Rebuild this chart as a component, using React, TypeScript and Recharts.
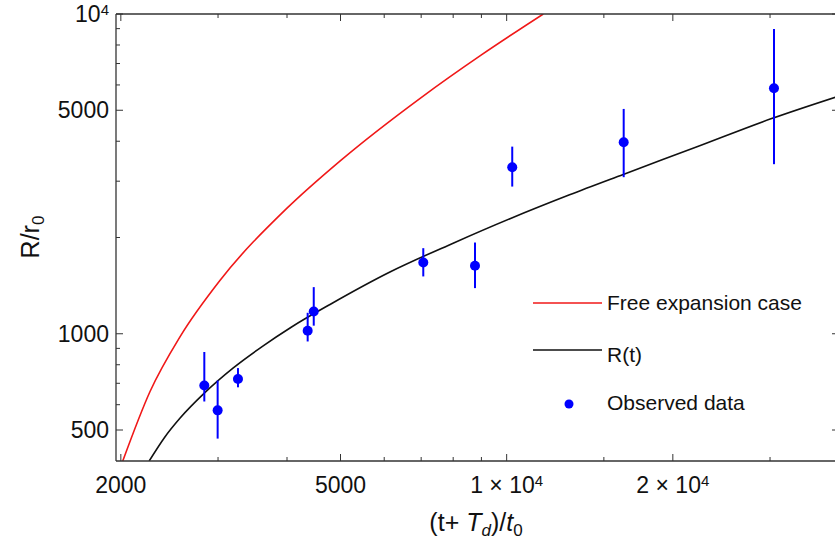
import { ComposedChart, Line, Scatter, ErrorBar, XAxis, YAxis } from 'recharts';

// observed points (x, y) with lower / upper ends of the error bars
const obsX = [2833, 2995, 3260, 4360, 4472, 7062, 8762, 10235, 16293, 30497];
const obsY = [689, 576, 722, 1022, 1174, 1670, 1631, 3318, 3973, 5858];
const obsLow = [614, 470, 680, 946, 1060, 1511, 1389, 2886, 3088, 3391];
const obsHigh = [877, 714, 781, 1163, 1399, 1852, 1929, 3848, 5048, 8978];

// R(t) curve
const rtX = [2251, 2400, 2561, 2833, 3197, 3600, 4077, 4786, 6145, 8000, 10139, 13000, 16264, 22000, 30100, 40000];
const rtY = [400, 474, 545, 652, 782, 910, 1050, 1235, 1560, 1920, 2290, 2720, 3150, 3830, 4700, 5540];

// free expansion curve
const freeX = [2016, 2259, 2561, 3021, 4000, 5000, 7000, 9000, 11650];
const freeY = [400, 660, 980, 1465, 2470, 3480, 5480, 7450, 10000];

const xTicks = [2000, 3000, 4000, 5000, 6000, 7000, 8000, 9000, 10000, 15000, 20000, 30000, 40000];
const xMajor = [2000, 5000, 10000, 20000];
const xMajorText = ['2000', '5000', '1 \u00d7 10', '2 \u00d7 10'];
const xMajorSup = ['', '', '4', '4'];

const yTicks = [500, 600, 700, 800, 900, 1000, 2000, 3000, 4000, 5000, 6000, 7000, 8000, 9000, 10000];
const yMajor = [500, 1000, 5000, 10000];
const yMajorText = ['500', '1000', '5000', '10'];
const yMajorSup = ['', '', '', '4'];

const freeData = freeX.map((x, i) => ({ x, y: freeY[i] }));
const rtData = rtX.map((x, i) => ({ x, y: rtY[i] }));
const obsData = obsX.map((x, i) => ({ x, y: obsY[i], err: [obsY[i] - obsLow[i], obsHigh[i] - obsY[i]] }));

const AXIS = '#333';
const FONT = '"Liberation Sans", Arial, Helvetica, sans-serif';
const BLUE = '#0000ff';
const RED = '#f01818';

function label(text: string, sup: string) {
  return (
    <>
      <tspan>{text}</tspan>
      {sup && (
        <tspan dy={-7} fontSize={15}>
          {sup}
        </tspan>
      )}
    </>
  );
}

function bottomTick(props: any) {
  const { x, y, payload } = props;
  const i = xMajor.indexOf(payload.value);
  return (
    <g>
      <line x1={x} x2={x} y1={y} y2={y - (i >= 0 ? 7 : 4)} stroke={AXIS} strokeWidth={1} />
      {i >= 0 && (
        <text x={x} y={y + 32} textAnchor="middle" fontSize={23} fill="#111" fontFamily={FONT}>
          {label(xMajorText[i], xMajorSup[i])}
        </text>
      )}
    </g>
  );
}

function topTick(props: any) {
  const { x, y, payload } = props;
  const major = xMajor.includes(payload.value);
  return <line x1={x} x2={x} y1={y} y2={y + (major ? 7 : 4)} stroke={AXIS} strokeWidth={1} />;
}

function leftTick(props: any) {
  const { x, y, payload } = props;
  const i = yMajor.indexOf(payload.value);
  return (
    <g>
      <line x1={x} x2={x + (i >= 0 ? 7 : 4)} y1={y} y2={y} stroke={AXIS} strokeWidth={1} />
      {i >= 0 && (
        <text x={x - 7} y={y + 8} textAnchor="end" fontSize={23} fill="#111" fontFamily={FONT}>
          {label(yMajorText[i], yMajorSup[i])}
        </text>
      )}
    </g>
  );
}

function rightTick(props: any) {
  const { x, y, payload } = props;
  const major = yMajor.includes(payload.value);
  return <line x1={x} x2={x - (major ? 7 : 4)} y1={y} y2={y} stroke={AXIS} strokeWidth={1} />;
}

const dot = (p: any) => <circle cx={p.cx} cy={p.cy} r={5} fill={BLUE} />;

export default function App() {
  const axisLine = { stroke: AXIS, strokeWidth: 1.3 };
  return (
    <div style={{ position: 'absolute', left: 0, top: 0, width: 835, height: 540, overflow: 'hidden', background: '#fff' }}>
      <ComposedChart width={850} height={540} margin={{ top: 10, right: 6, bottom: 0, left: 16 }}>
        <XAxis
          xAxisId="b"
          dataKey="x"
          type="number"
          scale="log"
          domain={[1960, 40000]}
          allowDataOverflow
          ticks={xTicks}
          interval={0}
          tickSize={0}
          tickMargin={0}
          tickLine={false}
          tick={bottomTick}
          axisLine={axisLine}
          height={79}
        />
        <XAxis
          xAxisId="t"
          orientation="top"
          dataKey="x"
          type="number"
          scale="log"
          domain={[1960, 40000]}
          allowDataOverflow
          ticks={xTicks}
          interval={0}
          tickSize={0}
          tickMargin={0}
          tickLine={false}
          tick={topTick}
          axisLine={axisLine}
          height={4}
        />
        <YAxis
          yAxisId="l"
          dataKey="y"
          type="number"
          scale="log"
          domain={[400, 10000]}
          allowDataOverflow
          ticks={yTicks}
          interval={0}
          tickSize={0}
          tickMargin={0}
          tickLine={false}
          tick={leftTick}
          axisLine={axisLine}
          width={100}
        />
        <YAxis
          yAxisId="r"
          orientation="right"
          dataKey="y"
          type="number"
          scale="log"
          domain={[400, 10000]}
          allowDataOverflow
          ticks={yTicks}
          interval={0}
          tickSize={0}
          tickMargin={0}
          tickLine={false}
          tick={rightTick}
          axisLine={axisLine}
          width={5}
        />
        <Line
          xAxisId="b"
          yAxisId="l"
          data={freeData}
          dataKey="y"
          type="monotone"
          stroke={RED}
          strokeWidth={1.6}
          dot={false}
          activeDot={false}
          isAnimationActive={false}
        />
        <Line
          xAxisId="b"
          yAxisId="l"
          data={rtData}
          dataKey="y"
          type="monotone"
          stroke="#111"
          strokeWidth={1.6}
          dot={false}
          activeDot={false}
          isAnimationActive={false}
        />
        <Scatter xAxisId="b" yAxisId="l" data={obsData} dataKey="y" fill={BLUE} shape={dot} isAnimationActive={false}>
          <ErrorBar dataKey="err" direction="y" width={0} stroke={BLUE} strokeWidth={2} isAnimationActive={false} />
        </Scatter>
      </ComposedChart>

      {/* axis titles and legend */}
      <svg width={835} height={540} style={{ position: 'absolute', left: 0, top: 0, pointerEvents: 'none' }} fontFamily={FONT}>
        <text transform="translate(39,237) rotate(-90)" textAnchor="middle" fontSize={25} fill="#111">
          <tspan>R/r</tspan>
          <tspan dy={5} fontSize={17}>0</tspan>
        </text>
        <text x={476} y={531} textAnchor="middle" fontSize={25} fill="#111">
          <tspan>(t+ </tspan>
          <tspan fontStyle="italic">T</tspan>
          <tspan dy={5} fontSize={17} fontStyle="italic">d</tspan>
          <tspan dy={-5}>)/</tspan>
          <tspan fontStyle="italic">t</tspan>
          <tspan dy={5} fontSize={17}>0</tspan>
        </text>

        <line x1={533} x2={602} y1={303} y2={303} stroke={RED} strokeWidth={1.6} />
        <text x={607} y={309.5} fontSize={21} fill="#111">Free expansion case</text>
        <line x1={533} x2={602} y1={350} y2={350} stroke="#111" strokeWidth={1.6} />
        <text x={607} y={361.5} fontSize={21} fill="#111">R(t)</text>
        <circle cx={569} cy={404} r={4.5} fill={BLUE} />
        <text x={607} y={410} fontSize={21} fill="#111">Observed data</text>
      </svg>
    </div>
  );
}
